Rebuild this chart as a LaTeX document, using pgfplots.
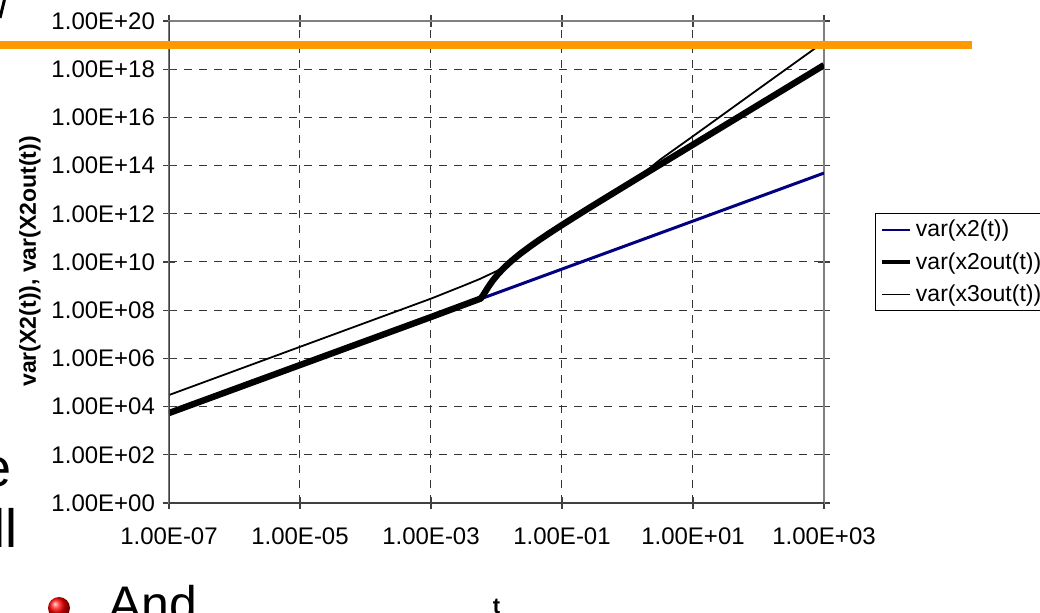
\documentclass[border=0pt]{standalone}
\usepackage{pgfplots}
\pgfplotsset{compat=1.18}
\usepackage{fontspec}
\setmainfont{Liberation Sans}
\definecolor{navyline}{RGB}{0,0,128}
\definecolor{slideorange}{RGB}{255,153,0}
\begin{document}
\begin{tikzpicture}
\useasboundingbox (0,0) rectangle (520pt,306pt);
\clip (0,0) rectangle (520pt,306pt);
\begin{axis}[
  at={(84.5pt,54.5pt)}, anchor=south west,
  scale only axis, width=327.5pt, height=241pt,
  xmode=log, ymode=log,
  xmin=1e-7, xmax=1e3, ymin=1, ymax=1e20,
  xtick={1e-7,1e-5,1e-3,1e-1,1e1,1e3},
  xticklabels={1.00E-07,1.00E-05,1.00E-03,1.00E-01,1.00E+01,1.00E+03},
  ytick={1,1e2,1e4,1e6,1e8,1e10,1e12,1e14,1e16,1e18,1e20},
  yticklabels={1.00E+00,1.00E+02,1.00E+04,1.00E+06,1.00E+08,1.00E+10,1.00E+12,1.00E+14,1.00E+16,1.00E+18,1.00E+20},
  minor tick style={draw=none},
  tick align=center, major tick length=6pt,
  tick style={black!75, line width=0.6pt},
  ticklabel style={font=\fontsize{12}{14}\selectfont},
  xticklabel style={yshift=-6pt},
  yticklabel style={xshift=-0.5pt},
  grid=major,
  major grid style={black!80, line width=0.5pt, dash pattern=on 4pt off 3.5pt},
  axis line style={draw=black!50, line width=0.6pt},
  xlabel={t},
  xlabel style={font=\bfseries\fontsize{11}{13}\selectfont, at={(axis description cs:0.5,0)}, anchor=base, yshift=-55pt},
  ylabel={var(X2(t)), var(X2out(t))},
  ylabel style={font=\bfseries\fontsize{11.5}{13}\selectfont, inner sep=0pt, at={(axis description cs:-0.2031,0.2407)}, anchor=base west},
  legend style={at={(1.078,0.6017)}, anchor=north west, draw=black, line width=0.5pt,
    font=\fontsize{11.5}{13}\selectfont, inner xsep=2pt, inner ysep=1.2pt, row sep=2.4pt},
  legend cell align=left,
  legend image code/.code={\draw[#1] (0pt,0pt) -- (14pt,0pt);},
]
\addlegendimage{navyline, line width=1pt}
\addlegendentry{var(x2(t))}
\addlegendimage{black, line width=2.2pt}
\addlegendentry{var(x2out(t))}
\addlegendimage{black, line width=0.5pt}
\addlegendentry{var(x3out(t))}
\addplot[navyline, line width=1.5pt, forget plot] coordinates {
(1e-7,5.37e3) (1e-3,5.18e7) (1e3,4.9e13)};
\addplot[black, line width=3.2pt, forget plot] coordinates {
(1e-7,5.4e3) (1e-5,5.3e5) (1e-3,5.2e7) (0.005623,2.98e8)
(0.0058,3.18e8) (0.0062,4.04e8) (0.0068,6.04e8) (0.0076,9.76e8)
(0.0088,1.72e9) (0.0105,3.10e9) (0.013,5.72e9) (0.017,1.12e10)
(0.023,2.19e10) (0.032,4.29e10) (0.045,8.22e10) (0.065,1.61e11)
(0.1,3.43e11) (0.16,7.69e11) (0.25,1.64e12) (0.4,3.60e12)
(0.63,7.66e12) (1,1.65e13) (2,5.20e13) (4,1.63e14) (10,7.41e14)
(30,4.54e15) (100,3.31e16) (300,2.03e17) (1000,1.48e18)};
\addplot[black, line width=0.9pt, forget plot] coordinates {
(1e-7,3.02e4) (1e-5,3.02e6) (1e-3,3.02e8) (3.16e-3,1.05e9) (5.62e-3,2.0e9)
(1e-2,4.17e9) (1.445e-2,7.24e9) (3.16e-2,3.8e10) (0.1,3.16e11) (0.316,2.4e12)
(1,1.74e13) (1.778,5.0e13) (3.16,1.78e14) (10,1.66e15) (100,1.51e17) (1000,1.35e19)};
\draw[black!75, line width=1pt] (rel axis cs:0,1) -- (rel axis cs:0,0) -- (rel axis cs:1,0);
\end{axis}
% slide decorations
\draw[slideorange, line width=4pt] (0pt,283.5pt) -- (486pt,283.5pt);
\node[anchor=base west, inner sep=0pt, font=\fontsize{27}{30}\selectfont] at (-9.25pt,63pt) {e};
\node[anchor=base west, inner sep=0pt, font=\fontsize{27}{30}\selectfont] at (-3.2pt,32.5pt) {ll};
\node[anchor=base west, inner sep=0pt, font=\fontsize{25}{28}\selectfont] at (54pt,-4.5pt) {And};
\shade[ball color=red] (29.5pt,2pt) circle (5.5pt);
\draw[black, line width=1.5pt] (2.2pt,306pt) -- (0pt,297pt);
\end{tikzpicture}
\end{document}
